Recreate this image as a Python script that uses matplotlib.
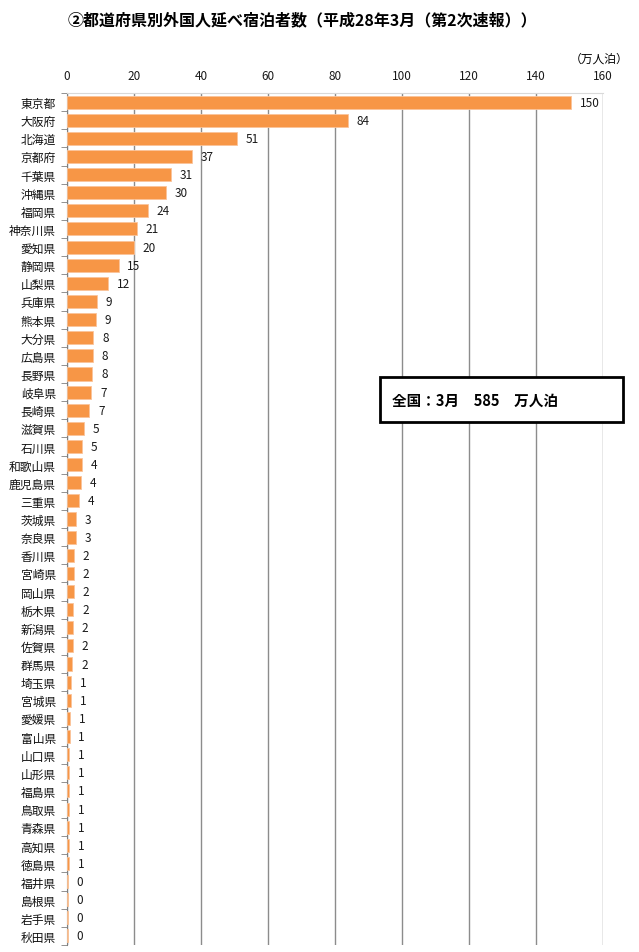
import matplotlib
matplotlib.use("Agg")
import matplotlib.pyplot as plt
from matplotlib.patches import Rectangle

plt.rcParams['font.family'] = ['Noto Sans CJK JP', 'DejaVu Sans']

prefectures = ['東京都', '大阪府', '北海道', '京都府', '千葉県', '沖縄県', '福岡県', '神奈川県',
               '愛知県', '静岡県', '山梨県', '兵庫県', '熊本県', '大分県', '広島県', '長野県',
               '岐阜県', '長崎県', '滋賀県', '石川県', '和歌山県', '鹿児島県', '三重県', '茨城県',
               '奈良県', '香川県', '宮崎県', '岡山県', '栃木県', '新潟県', '佐賀県', '群馬県',
               '埼玉県', '宮城県', '愛媛県', '富山県', '山口県', '山形県', '福島県', '鳥取県',
               '青森県', '高知県', '徳島県', '福井県', '島根県', '岩手県', '秋田県']
# 万人泊 (bar lengths)
stays = [150.4, 83.9, 50.7, 37.3, 31.0, 29.6, 24.2, 20.9,
         20.0, 15.4, 12.2, 9.0, 8.6, 7.9, 7.8, 7.6,
         7.3, 6.7, 5.2, 4.6, 4.4, 4.3, 3.6, 2.8,
         2.6, 2.1, 2.1, 2.1, 1.9, 1.7, 1.7, 1.6,
         1.3, 1.3, 1.0, 0.8, 0.7, 0.6, 0.6, 0.56,
         0.56, 0.56, 0.55, 0.3, 0.3, 0.3, 0.2]
x_ticks = [0, 20, 40, 60, 80, 100, 120, 140, 160]
total_text = '全国：3月　585　万人泊'

fig = plt.figure(figsize=(6.39, 9.53), dpi=100)
ax = fig.add_axes([67 / 639, 7 / 953, 536 / 639, 852 / 953])

ypos = list(range(len(prefectures)))
ax.barh(ypos, stays, height=0.72, color='#F79646', edgecolor='#FBC49A', linewidth=0.6, zorder=3)
for y, v in zip(ypos, stays):
    ax.text(v + 2.6, y, f'{v:.0f}', va='center', ha='left', fontsize=8.5, color='#1a1a1a')

ax.set_xlim(0, 160)
ax.set_ylim(len(prefectures) - 0.5, -0.5)
ax.xaxis.tick_top()
ax.set_xticks(x_ticks)
ax.tick_params(axis='x', length=0, labelsize=8.5, pad=8, colors='#1a1a1a')
ax.grid(axis='x', color='#8c8c8c', linewidth=1, zorder=0)

ax.set_yticks(ypos)
ax.set_yticklabels(prefectures, fontsize=8.5, color='#111111')
ax.set_yticks([i + 0.5 for i in range(-1, len(prefectures))], minor=True)
ax.tick_params(axis='y', which='major', length=0, pad=8)
ax.tick_params(axis='y', which='minor', length=4, color='#808080', direction='out')

ax.spines['left'].set_color('#808080')
ax.spines['top'].set_color('#d9d9d9')
ax.spines['right'].set_visible(False)
ax.spines['bottom'].set_visible(False)

fig.text(302 / 639, 1 - 20 / 953, '②都道府県別外国人延べ宿泊者数（平成28年3月（第2次速報））',
         ha='center', va='center', fontsize=11.5, weight='bold')
fig.text(628 / 639, 1 - 59 / 953, '（万人泊）', ha='right', va='center', fontsize=8.5)

box = Rectangle((380 / 639, 1 - 423 / 953), 243 / 639, 45 / 953, transform=fig.transFigure,
                facecolor='white', edgecolor='black', linewidth=2, zorder=5)
fig.patches.append(box)
fig.text(392 / 639, 1 - 401 / 953, total_text, ha='left', va='center', fontsize=10.5,
         weight='bold', zorder=6)

fig.savefig('out.png', dpi=100)
